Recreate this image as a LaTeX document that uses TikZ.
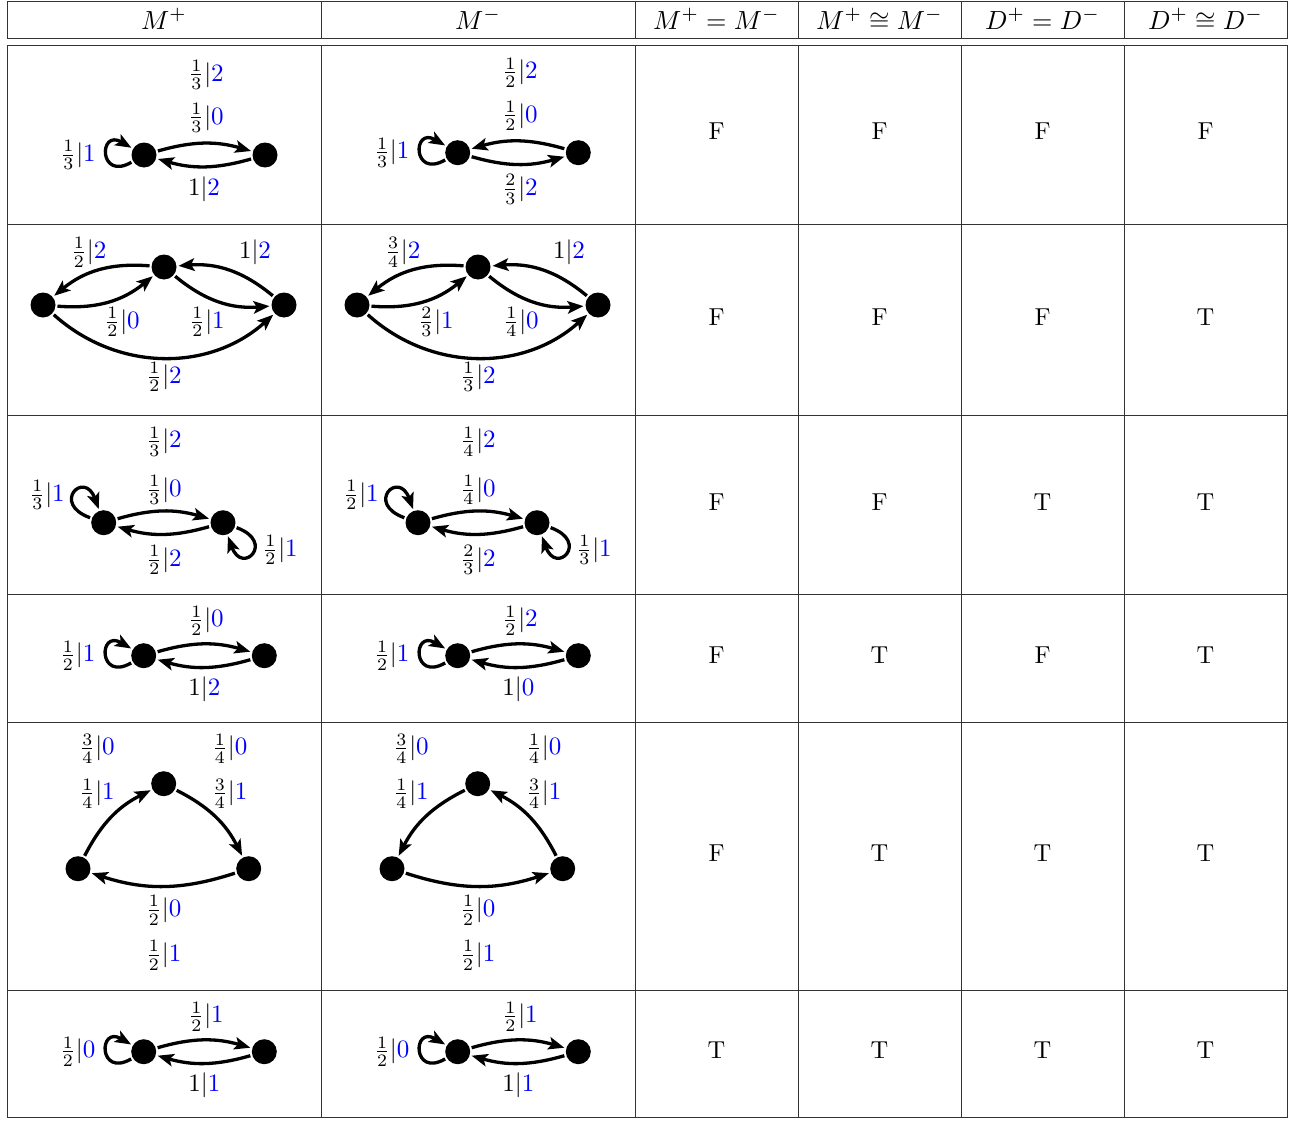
\documentclass[tikz,border=0pt]{standalone}
\usepackage{graphicx}
\usetikzlibrary{arrows.meta}
\definecolor{lblue}{RGB}{0,0,255}
\newcommand{\fl}[3]{\scalebox{2.5}{$\frac{#1}{#2}|\textcolor{lblue}{#3}$}}
\newcommand{\il}[2]{\scalebox{2.5}{$#1|\textcolor{lblue}{#2}$}}
\newcommand{\hd}[1]{\scalebox{2.62}{$#1$}}
\newcommand{\tv}[1]{\scalebox{2.45}{#1}}
\tikzset{
  vtx/.style={circle,fill=black,minimum size=25pt,inner sep=0pt,outer sep=2pt},
  edge/.style={line width=3.3pt,-{Stealth[length=16pt,width=12.5pt,inset=3.5pt]}},
  lab/.style={inner sep=0pt},
  cell/.style={inner sep=0pt},
  hdr/.style={inner sep=0pt,anchor=base},
  rule/.style={line width=1pt,draw=black!80},
  sloopL/.style={out=210,in=150,distance=38pt},
}
\begin{document}
\begin{tikzpicture}[x=1pt,y=1pt]
\useasboundingbox (0,0) rectangle (1297,-1121);
\fill[white] (0,0) rectangle (1297,-1121);
% table
\draw[rule] (7,-2) rectangle (1287,-39);
\draw[rule] (7,-46) rectangle (1287,-1117);
\foreach \x in {321,635,798,961,1124} {
  \draw[rule] (\x,-2) -- (\x,-39);
  \draw[rule] (\x,-46) -- (\x,-1117);
}
\foreach \y in {224,415,594,722,990} \draw[rule] (7,-\y) -- (1287,-\y);
% header
\node[hdr] (h1) at (164,-29.5) {\hd{M^+}};
\node[hdr] (h2) at (478,-29.5) {\hd{M^-}};
\node[hdr] (h3) at (716.5,-29.5) {\hd{M^+=M^-}};
\node[hdr] (h4) at (879.5,-29.5) {\hd{M^+\cong M^-}};
\node[hdr] (h5) at (1042.5,-29.5) {\hd{D^+=D^-}};
\node[hdr] (h6) at (1205.5,-29.5) {\hd{D^+\cong D^-}};
% truth cells
\foreach \r/\y/\a/\b/\c/\d in {1/131/F/F/F/F,2/317/F/F/F/T,3/502/F/F/T/T,4/655/F/T/F/T,5/853/F/T/T/T,6/1050/T/T/T/T} {
  \node[cell] (c\r a) at (716.5,-\y) {\tv{\a}};
  \node[cell] (c\r b) at (879.5,-\y) {\tv{\b}};
  \node[cell] (c\r c) at (1042.5,-\y) {\tv{\c}};
  \node[cell] (c\r d) at (1205.5,-\y) {\tv{\d}};
}
% ---------- row 1 ----------
\node[vtx] (a1L) at (144,-155) {};
\node[vtx] (a1R) at (265,-155) {};
\draw[edge] (a1L) to[bend left=16] (a1R);
\draw[edge] (a1R) to[bend left=16] (a1L);
\draw[edge] (a1L) to[sloopL] (a1L);
\node[lab] (a1t1) at (206,-75) {\fl{1}{3}{2}};
\node[lab] (a1t2) at (206,-118) {\fl{1}{3}{0}};
\node[lab] (a1b) at (204,-189) {\il{1}{2}};
\node[lab] (a1l) at (78,-155) {\fl{1}{3}{1}};
\node[vtx] (b1L) at (457.7,-152.7) {};
\node[vtx] (b1R) at (578.3,-152.7) {};
\draw[edge] (b1R) to[bend right=16] (b1L);
\draw[edge] (b1L) to[bend right=16] (b1R);
\draw[edge] (b1L) to[sloopL] (b1L);
\node[lab] (b1t1) at (520,-72.7) {\fl{1}{2}{2}};
\node[lab] (b1t2) at (520,-116) {\fl{1}{2}{0}};
\node[lab] (b1b) at (520,-189.3) {\fl{2}{3}{2}};
\node[lab] (b1l) at (391.7,-152.7) {\fl{1}{3}{1}};
% ---------- row 2 ----------
\node[vtx] (a2L) at (43,-305) {};
\node[vtx] (a2T) at (164,-267) {};
\node[vtx] (a2R) at (284,-305) {};
\draw[edge] (a2T) to[bend right=22] (a2L);
\draw[edge] (a2L) to[bend right=22] (a2T);
\draw[edge] (a2T) to[bend right=22] (a2R);
\draw[edge] (a2R) to[bend right=22] (a2T);
\draw[edge] (a2L) to[bend right=42] (a2R);
\node[lab] (a2x1) at (88.7,-252.3) {\fl{1}{2}{2}};
\node[lab] (a2x2) at (255,-252) {\il{1}{2}};
\node[lab] (a2x3) at (122,-322) {\fl{1}{2}{0}};
\node[lab] (a2x4) at (207,-322) {\fl{1}{2}{1}};
\node[lab] (a2x5) at (164,-377) {\fl{1}{2}{2}};
\node[vtx] (b2L) at (357,-305) {};
\node[vtx] (b2T) at (478,-267) {};
\node[vtx] (b2R) at (598,-305) {};
\draw[edge] (b2T) to[bend right=22] (b2L);
\draw[edge] (b2L) to[bend right=22] (b2T);
\draw[edge] (b2T) to[bend right=22] (b2R);
\draw[edge] (b2R) to[bend right=22] (b2T);
\draw[edge] (b2L) to[bend right=42] (b2R);
\node[lab] (b2x1) at (402.7,-252.3) {\fl{3}{4}{2}};
\node[lab] (b2x2) at (569,-252) {\il{1}{2}};
\node[lab] (b2x3) at (436,-322) {\fl{2}{3}{1}};
\node[lab] (b2x4) at (521,-322) {\fl{1}{4}{0}};
\node[lab] (b2x5) at (478,-377) {\fl{1}{3}{2}};
% ---------- row 3 ----------
\node[vtx] (a3L) at (103.7,-522.7) {};
\node[vtx] (a3R) at (223,-522.7) {};
\draw[edge] (a3L) to[bend left=16] (a3R);
\draw[edge] (a3R) to[bend left=16] (a3L);
\draw[edge] (a3L) to[out=160,in=110,distance=42pt] (a3L);
\draw[edge] (a3R) to[out=-20,in=-70,distance=42pt] (a3R);
\node[lab] (a3t1) at (164,-441.7) {\fl{1}{3}{2}};
\node[lab] (a3t2) at (164,-490) {\fl{1}{3}{0}};
\node[lab] (a3b) at (164,-560) {\fl{1}{2}{2}};
\node[lab] (a3l) at (47,-495) {\fl{1}{3}{1}};
\node[lab] (a3r) at (280,-550) {\fl{1}{2}{1}};
\node[vtx] (b3L) at (418,-522.7) {};
\node[vtx] (b3R) at (537,-522.7) {};
\draw[edge] (b3L) to[bend left=16] (b3R);
\draw[edge] (b3R) to[bend left=16] (b3L);
\draw[edge] (b3L) to[out=160,in=110,distance=42pt] (b3L);
\draw[edge] (b3R) to[out=-20,in=-70,distance=42pt] (b3R);
\node[lab] (b3t1) at (478,-441.7) {\fl{1}{4}{2}};
\node[lab] (b3t2) at (478,-490) {\fl{1}{4}{0}};
\node[lab] (b3b) at (478,-560) {\fl{2}{3}{2}};
\node[lab] (b3l) at (361,-495) {\fl{1}{2}{1}};
\node[lab] (b3r) at (594,-550) {\fl{1}{3}{1}};
% ---------- row 4 ----------
\node[vtx] (a4L) at (143.7,-655.7) {};
\node[vtx] (a4R) at (264.3,-655.7) {};
\draw[edge] (a4L) to[bend left=16] (a4R);
\draw[edge] (a4R) to[bend left=16] (a4L);
\draw[edge] (a4L) to[sloopL] (a4L);
\node[lab] (a4t) at (206,-620.7) {\fl{1}{2}{0}};
\node[lab] (a4b) at (204.3,-689) {\il{1}{2}};
\node[lab] (a4l) at (77.7,-655.7) {\fl{1}{2}{1}};
\node[vtx] (b4L) at (457.7,-655.7) {};
\node[vtx] (b4R) at (578.3,-655.7) {};
\draw[edge] (b4L) to[bend left=16] (b4R);
\draw[edge] (b4R) to[bend left=16] (b4L);
\draw[edge] (b4L) to[sloopL] (b4L);
\node[lab] (b4t) at (520,-620.7) {\fl{1}{2}{2}};
\node[lab] (b4b) at (518.3,-689) {\il{1}{0}};
\node[lab] (b4l) at (391.7,-655.7) {\fl{1}{2}{1}};
% ---------- row 5 ----------
\node[vtx] (a5T) at (163.7,-783.7) {};
\node[vtx] (a5L) at (78,-868.7) {};
\node[vtx] (a5R) at (248.7,-868.7) {};
\draw[edge] (a5L) to[bend left=18] (a5T);
\draw[edge] (a5T) to[bend left=18] (a5R);
\draw[edge] (a5R) to[bend left=18] (a5L);
\node[lab] (a5x1) at (97,-748.7) {\fl{3}{4}{0}};
\node[lab] (a5x2) at (97,-793.7) {\fl{1}{4}{1}};
\node[lab] (a5x3) at (229.7,-748.7) {\fl{1}{4}{0}};
\node[lab] (a5x4) at (229.7,-793.7) {\fl{3}{4}{1}};
\node[lab] (a5x5) at (163.7,-910.3) {\fl{1}{2}{0}};
\node[lab] (a5x6) at (163.7,-955.3) {\fl{1}{2}{1}};
\node[vtx] (b5T) at (477.7,-783.7) {};
\node[vtx] (b5L) at (392,-868.7) {};
\node[vtx] (b5R) at (562.7,-868.7) {};
\draw[edge] (b5T) to[bend right=18] (b5L);
\draw[edge] (b5R) to[bend right=18] (b5T);
\draw[edge] (b5L) to[bend right=18] (b5R);
\node[lab] (b5x1) at (411,-748.7) {\fl{3}{4}{0}};
\node[lab] (b5x2) at (411,-793.7) {\fl{1}{4}{1}};
\node[lab] (b5x3) at (543.7,-748.7) {\fl{1}{4}{0}};
\node[lab] (b5x4) at (543.7,-793.7) {\fl{3}{4}{1}};
\node[lab] (b5x5) at (477.7,-910.3) {\fl{1}{2}{0}};
\node[lab] (b5x6) at (477.7,-955.3) {\fl{1}{2}{1}};
% ---------- row 6 ----------
\node[vtx] (a6L) at (143.7,-1051.7) {};
\node[vtx] (a6R) at (264.3,-1051.7) {};
\draw[edge] (a6L) to[bend left=16] (a6R);
\draw[edge] (a6R) to[bend left=16] (a6L);
\draw[edge] (a6L) to[sloopL] (a6L);
\node[lab] (a6t) at (206,-1016.7) {\fl{1}{2}{1}};
\node[lab] (a6b) at (204.3,-1085) {\il{1}{1}};
\node[lab] (a6l) at (77.7,-1051.7) {\fl{1}{2}{0}};
\node[vtx] (b6L) at (457.7,-1051.7) {};
\node[vtx] (b6R) at (578.3,-1051.7) {};
\draw[edge] (b6L) to[bend left=16] (b6R);
\draw[edge] (b6R) to[bend left=16] (b6L);
\draw[edge] (b6L) to[sloopL] (b6L);
\node[lab] (b6t) at (520,-1016.7) {\fl{1}{2}{1}};
\node[lab] (b6b) at (518.3,-1085) {\il{1}{1}};
\node[lab] (b6l) at (391.7,-1051.7) {\fl{1}{2}{0}};
\end{tikzpicture}
\end{document}
